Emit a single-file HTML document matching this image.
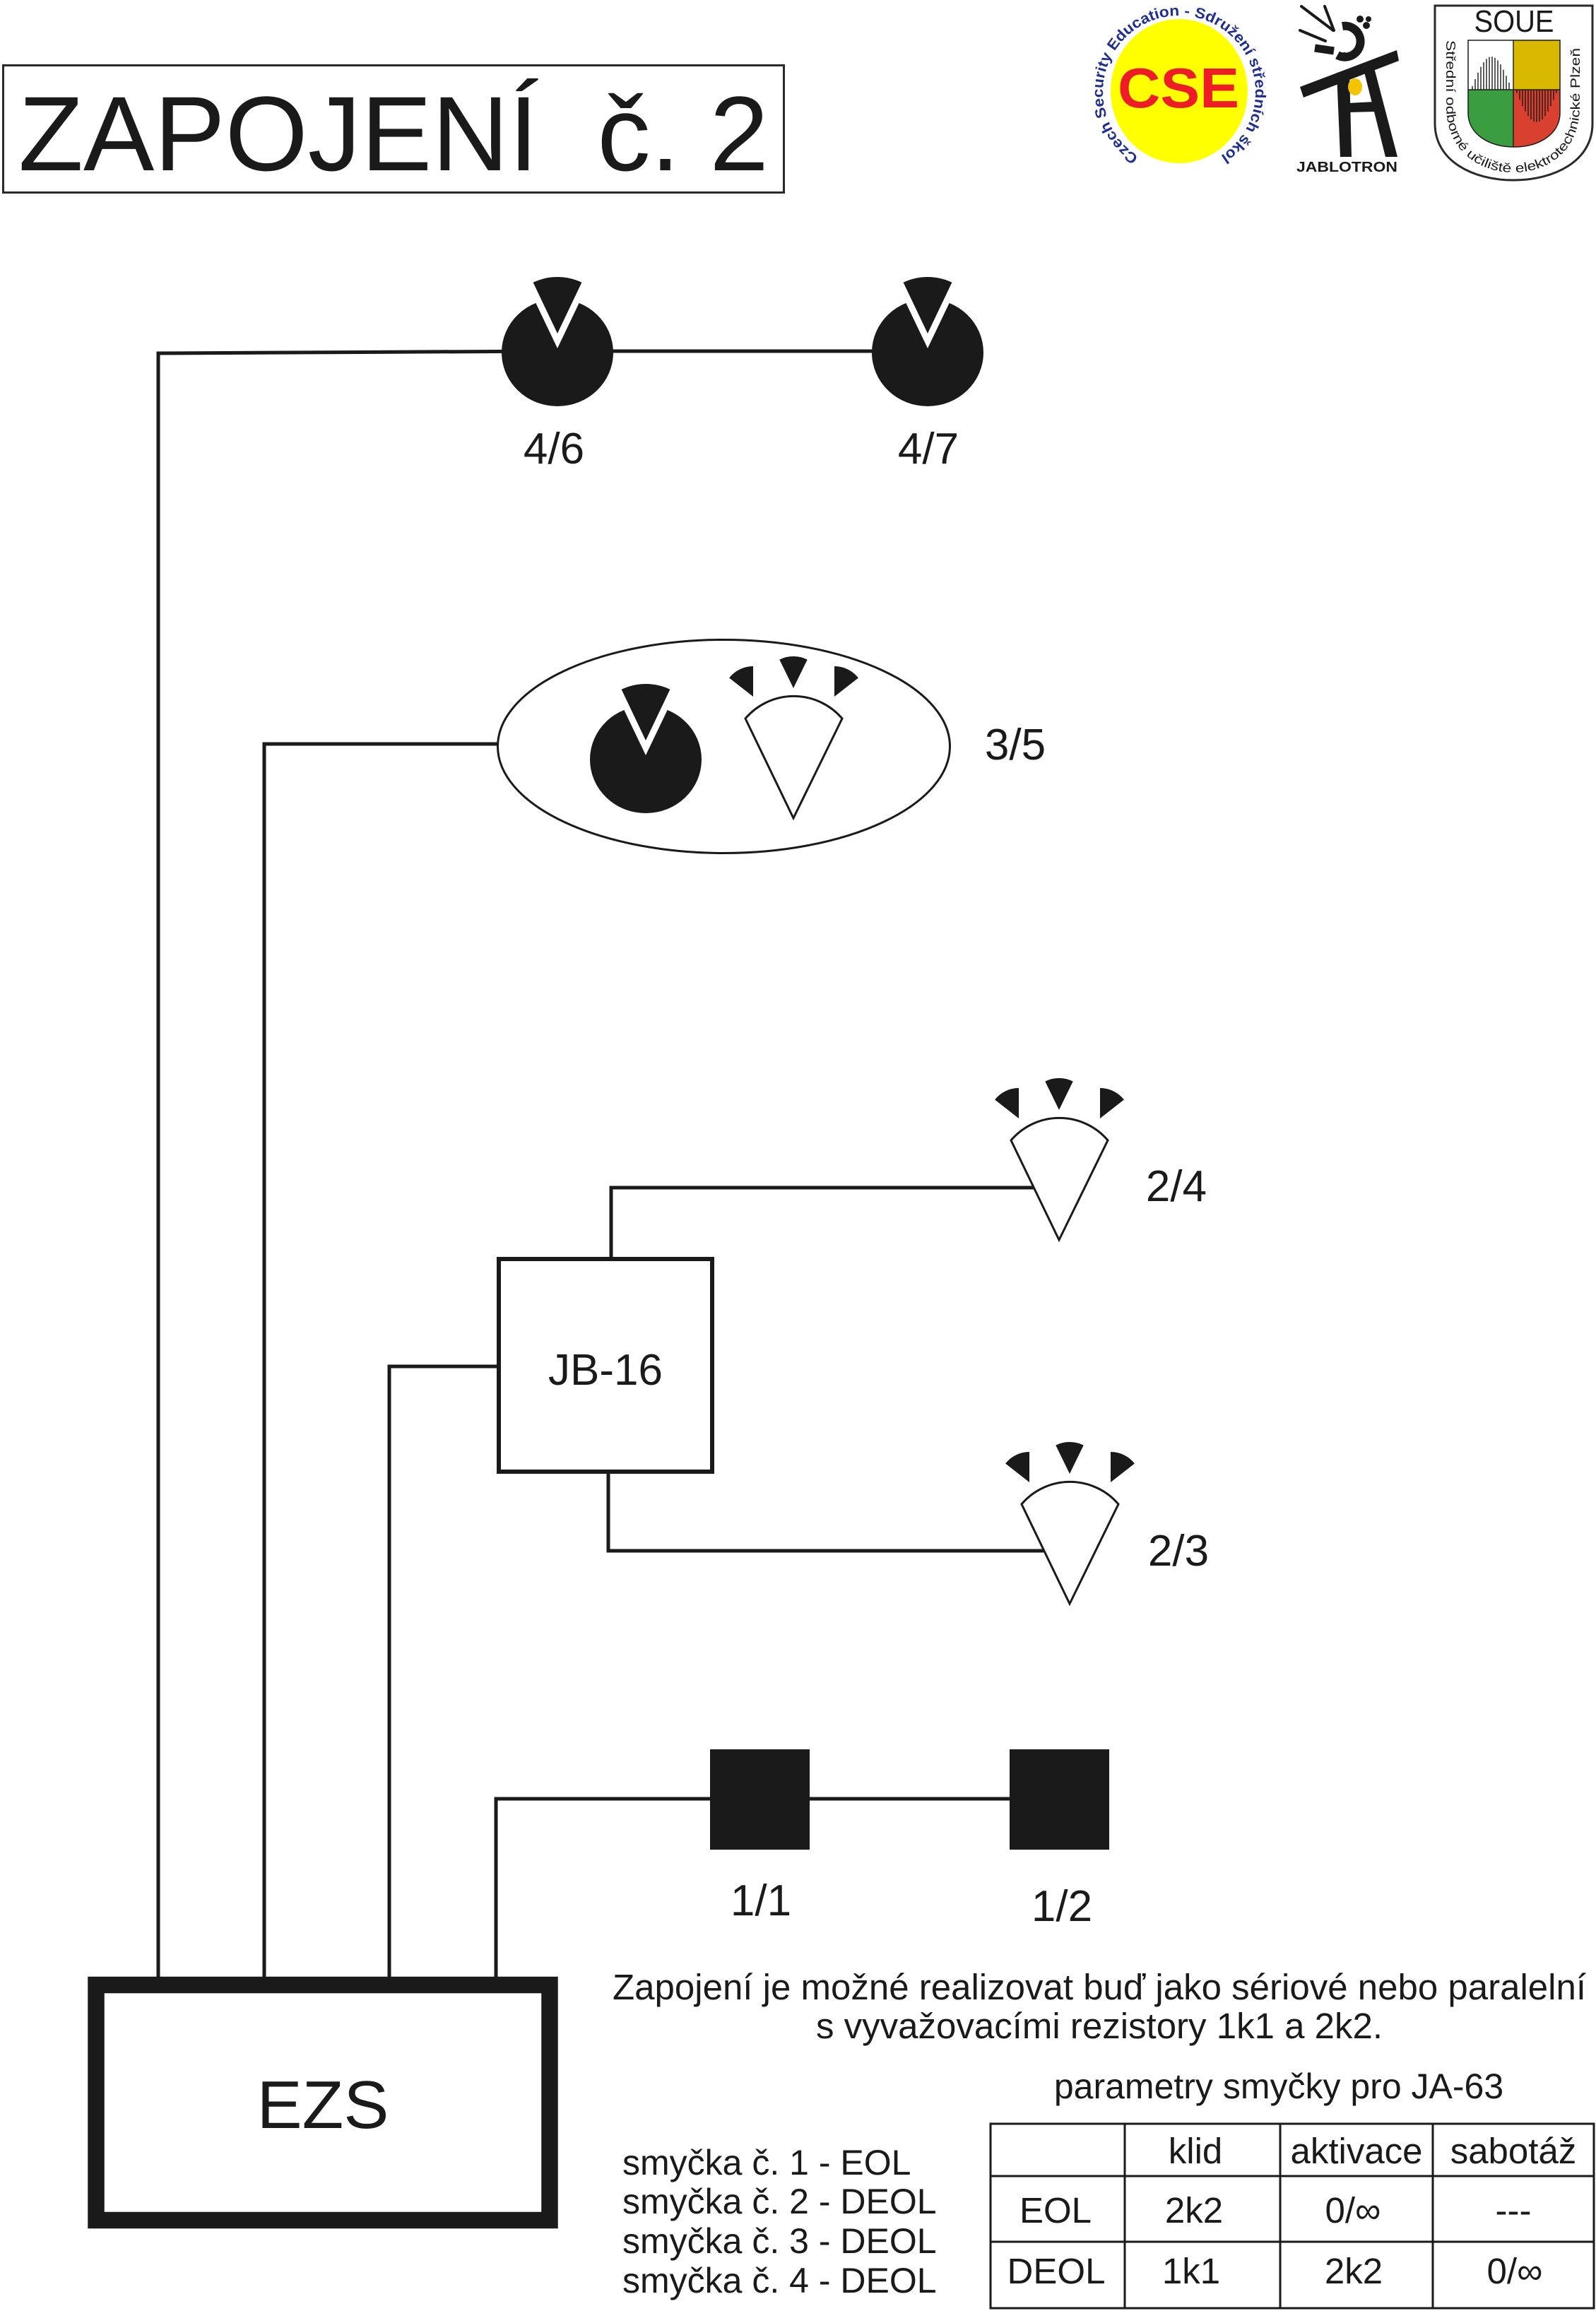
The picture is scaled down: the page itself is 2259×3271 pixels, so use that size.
<!DOCTYPE html>
<html>
<head>
<meta charset="utf-8">
<style>
html,body{margin:0;padding:0;background:#fff}
svg{display:block}
</style>
</head>
<body>
<svg xmlns="http://www.w3.org/2000/svg" xmlns:xlink="http://www.w3.org/1999/xlink" width="2259" height="3271" viewBox="0 0 2259 3271" font-family="'Liberation Sans', Arial, sans-serif">
<defs>
  <path id="csearc" d="M1611.8,221.6 A108 108 0 1 1 1725.3,222.2"/>
  <path id="souearc" d="M2047,57 V150 C2047,215 2095,244 2142,244 C2190,244 2236,215 2236,150 V57"/>
  <clipPath id="shieldclip">
    <path d="M2078,57 H2208 V160 C2208,190 2178,208 2143,208 C2108,208 2078,190 2078,160 Z"/>
  </clipPath>
  <g id="pir">
    <path d="M0,0 L-68,-141 A90 90 0 0 1 69,-141 Z" fill="#fff" stroke="#1a1a1a" stroke-width="3" stroke-linejoin="miter"/>
    <path d="M-57,-172 L-90.9,-198.5 A43 43 0 0 1 -57,-215 Z" fill="#1a1a1a"/>
    <path d="M0,-184 L-19.7,-224.4 A45 45 0 0 1 19.7,-224.4 Z" fill="#1a1a1a"/>
    <path d="M58,-172 L58,-215 A43 43 0 0 1 91.9,-198.5 Z" fill="#1a1a1a"/>
  </g>
  <g id="det">
    <ellipse cx="0" cy="0" rx="79" ry="76" fill="#1a1a1a"/>
    <polygon points="0,-6 -55,-121 55,-121" fill="#fff"/>
    <path d="M0,-27 L-34.4,-99.2 A80 80 0 0 1 34.4,-99.2 Z" fill="#1a1a1a"/>
  </g>
</defs>

<!-- Title -->
<rect x="4.5" y="92.5" width="1105" height="180" fill="none" stroke="#2a2a2a" stroke-width="3"/>
<text x="26" y="241" font-size="150" fill="#1a1a1a" textLength="1062" lengthAdjust="spacingAndGlyphs">ZAPOJENÍ&#160;&#160;č. 2</text>

<!-- CSE logo -->
<ellipse cx="1669" cy="129" rx="97" ry="102" fill="#ffff00"/>
<text x="1668" y="152" font-size="80" font-weight="bold" fill="#ee1c24" text-anchor="middle" textLength="172" lengthAdjust="spacingAndGlyphs">CSE</text>
<text font-size="21" font-weight="bold" fill="#1f2f8f"><textPath href="#csearc" xlink:href="#csearc" textLength="556" lengthAdjust="spacingAndGlyphs">Czech Security Education - Sdružení středních škol</textPath></text>

<!-- Jablotron logo -->
<g stroke="#1a1a1a" stroke-width="4" stroke-linecap="round">
  <line x1="1842" y1="9" x2="1887" y2="43"/>
  <line x1="1875" y1="9" x2="1888" y2="43"/>
  <line x1="1840" y1="43" x2="1876" y2="58"/>
</g>
<path d="M1900,37 A22 22 0 1 1 1893,78" fill="none" stroke="#1a1a1a" stroke-width="12"/>
<line x1="1861" y1="68" x2="1888" y2="72" stroke="#1a1a1a" stroke-width="11"/>
<circle cx="1925" cy="27" r="5" fill="#1a1a1a"/>
<circle cx="1934" cy="36" r="5" fill="#1a1a1a"/>
<circle cx="1937" cy="27" r="4" fill="#1a1a1a"/>
<circle cx="1903" cy="80" r="6" fill="#1a1a1a"/>
<polygon points="1840,123 1977,71 1980,86 1845,138" fill="#1a1a1a"/>
<polygon points="1892,103 1910,100 1913,222 1897,222" fill="#1a1a1a"/>
<polygon points="1930,98 1945,96 1978,222 1961,222" fill="#1a1a1a"/>
<polygon points="1908,146 1945,144 1947,158 1909,159" fill="#1a1a1a"/>
<ellipse cx="1918" cy="123" rx="10" ry="12" fill="#f5c400"/>
<text x="1835" y="243" font-size="20" font-weight="bold" fill="#1a1a1a" textLength="143" lengthAdjust="spacingAndGlyphs">JABLOTRON</text>

<!-- SOUE logo -->
<path d="M2031,8 H2254 V175 C2254,228 2200,255 2142,255 C2085,255 2031,228 2031,175 Z" fill="#fff" stroke="#2a2a2a" stroke-width="3"/>
<text x="2143" y="45" font-size="44" fill="#1a1a1a" text-anchor="middle" textLength="113" lengthAdjust="spacingAndGlyphs">SOUE</text>
<g clip-path="url(#shieldclip)">
  <rect x="2078" y="57" width="64" height="70" fill="#fff"/>
  <rect x="2142" y="57" width="66" height="70" fill="#d9b800"/>
  <rect x="2078" y="127" width="64" height="90" fill="#3a9e40"/>
  <rect x="2142" y="127" width="66" height="90" fill="#d8402f"/>
  <g stroke="#1a1a1a" stroke-width="1.4">
    <line x1="2084" y1="127" x2="2084" y2="121.9"/>
    <line x1="2088" y1="127" x2="2088" y2="112"/>
    <line x1="2092" y1="127" x2="2092" y2="102.8"/>
    <line x1="2096" y1="127" x2="2096" y2="94.7"/>
    <line x1="2100" y1="127" x2="2100" y2="88.1"/>
    <line x1="2104" y1="127" x2="2104" y2="83.3"/>
    <line x1="2108" y1="127" x2="2108" y2="80.6"/>
    <line x1="2112" y1="127" x2="2112" y2="80.1"/>
    <line x1="2116" y1="127" x2="2116" y2="81.7"/>
    <line x1="2120" y1="127" x2="2120" y2="85.5"/>
    <line x1="2124" y1="127" x2="2124" y2="91.1"/>
    <line x1="2128" y1="127" x2="2128" y2="98.6"/>
    <line x1="2132" y1="127" x2="2132" y2="107.3"/>
    <line x1="2136" y1="127" x2="2136" y2="116.9"/>
    <line x1="2147" y1="127" x2="2147" y2="131.8"/>
    <line x1="2151" y1="127" x2="2151" y2="141.2"/>
    <line x1="2155" y1="127" x2="2155" y2="150"/>
    <line x1="2159" y1="127" x2="2159" y2="157.8"/>
    <line x1="2163" y1="127" x2="2163" y2="164.2"/>
    <line x1="2167" y1="127" x2="2167" y2="169"/>
    <line x1="2171" y1="127" x2="2171" y2="172"/>
    <line x1="2175" y1="127" x2="2175" y2="173"/>
    <line x1="2179" y1="127" x2="2179" y2="172"/>
    <line x1="2183" y1="127" x2="2183" y2="169"/>
    <line x1="2187" y1="127" x2="2187" y2="164.2"/>
    <line x1="2191" y1="127" x2="2191" y2="157.8"/>
    <line x1="2195" y1="127" x2="2195" y2="150"/>
    <line x1="2199" y1="127" x2="2199" y2="141.2"/>
    <line x1="2203" y1="127" x2="2203" y2="131.8"/>
    <line x1="2078" y1="127" x2="2208" y2="127"/>
    <line x1="2142" y1="57" x2="2142" y2="210"/>
  </g>
</g>
<path d="M2078,57 H2208 V160 C2208,190 2178,208 2143,208 C2108,208 2078,190 2078,160 Z" fill="none" stroke="#1a1a1a" stroke-width="1.5"/>
<text font-size="18" fill="#1a1a1a"><textPath href="#souearc" xlink:href="#souearc" textLength="475" lengthAdjust="spacingAndGlyphs">Střední odborné učiliště elektrotechnické Plzeň</textPath></text>

<!-- Connectors -->
<g fill="none" stroke="#1a1a1a" stroke-width="5" stroke-linejoin="miter">
  <polyline points="224,2798 224,500 789,497 1313,497"/>
  <polyline points="374,2798 374,1053 705,1053"/>
  <polyline points="551,2798 551,1934 703,1934"/>
  <polyline points="702,2798 702,2546 1429,2546"/>
  <polyline points="865,1779 865,1681 1463,1681"/>
  <polyline points="861,2086 861,2195 1477,2195"/>
</g>

<!-- Detectors 4/6, 4/7 -->
<use href="#det" xlink:href="#det" x="789" y="499"/>
<use href="#det" xlink:href="#det" x="1313" y="499"/>
<g font-size="62" fill="#1a1a1a" text-anchor="middle">
  <text x="784" y="656">4/6</text>
  <text x="1314" y="656">4/7</text>
</g>

<!-- Ellipse group 3/5 -->
<ellipse cx="1024.5" cy="1056.5" rx="320" ry="151" fill="#fff" stroke="#1a1a1a" stroke-width="3"/>
<use href="#det" xlink:href="#det" x="914" y="1075"/>
<use href="#pir" xlink:href="#pir" x="1123" y="1158"/>
<text x="1437" y="1075" font-size="62" fill="#1a1a1a" text-anchor="middle">3/5</text>

<!-- JB-16 -->
<rect x="706" y="1782" width="302" height="301" fill="#fff" stroke="#1a1a1a" stroke-width="6"/>
<text x="857" y="1960" font-size="62" fill="#1a1a1a" text-anchor="middle">JB-16</text>

<!-- PIR 2/4, 2/3 -->
<use href="#pir" xlink:href="#pir" x="1499" y="1755"/>
<use href="#pir" xlink:href="#pir" x="1514" y="2270"/>
<g font-size="62" fill="#1a1a1a" text-anchor="middle">
  <text x="1665" y="1700">2/4</text>
  <text x="1668" y="2216">2/3</text>
</g>

<!-- Squares 1/1, 1/2 -->
<rect x="1005" y="2476" width="141" height="142" fill="#1a1a1a"/>
<rect x="1429" y="2476" width="141" height="142" fill="#1a1a1a"/>
<g font-size="62" fill="#1a1a1a" text-anchor="middle">
  <text x="1077" y="2711">1/1</text>
  <text x="1503" y="2719">1/2</text>
</g>

<!-- EZS -->
<rect x="136" y="2809.5" width="642" height="333" fill="#fff" stroke="#1a1a1a" stroke-width="23.5"/>
<text x="457" y="3012" font-size="96" fill="#1a1a1a" text-anchor="middle">EZS</text>

<!-- Notes -->
<g font-size="51" fill="#1a1a1a" text-anchor="middle">
  <text x="1556" y="2830">Zapojení je možné realizovat buď jako sériové nebo paralelní</text>
  <text x="1556" y="2885">s vyvažovacími rezistory 1k1 a 2k2.</text>
  <text x="1810" y="2970" font-size="50">parametry smyčky pro JA-63</text>
</g>
<g font-size="50" fill="#1a1a1a">
  <text x="881" y="3078">smyčka č. 1 - EOL</text>
  <text x="881" y="3133">smyčka č. 2 - DEOL</text>
  <text x="881" y="3189">smyčka č. 3 - DEOL</text>
  <text x="881" y="3245">smyčka č. 4 - DEOL</text>
</g>

<!-- Table -->
<g fill="none" stroke="#1a1a1a" stroke-width="3">
  <rect x="1402" y="3006" width="854" height="261"/>
  <line x1="1592" y1="3006" x2="1592" y2="3267"/>
  <line x1="1812" y1="3006" x2="1812" y2="3267"/>
  <line x1="2028" y1="3006" x2="2028" y2="3267"/>
  <line x1="1402" y1="3080" x2="2256" y2="3080"/>
  <line x1="1402" y1="3173" x2="2256" y2="3173"/>
</g>
<g font-size="51" fill="#1a1a1a" text-anchor="middle">
  <text x="1692" y="3062">klid</text>
  <text x="1920" y="3062">aktivace</text>
  <text x="2142" y="3062">sabotáž</text>
  <text x="1494" y="3146">EOL</text>
  <text x="1690" y="3146">2k2</text>
  <text x="1915" y="3146">0/∞</text>
  <text x="2142" y="3146">---</text>
  <text x="1495" y="3232">DEOL</text>
  <text x="1686" y="3232">1k1</text>
  <text x="1916" y="3232">2k2</text>
  <text x="2144" y="3232">0/∞</text>
</g>
</svg>
</body>
</html>
